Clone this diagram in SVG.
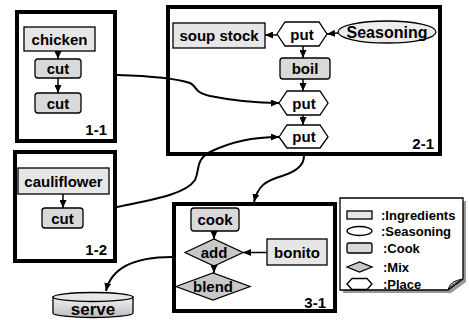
<svg xmlns="http://www.w3.org/2000/svg" width="469" height="320" viewBox="0 0 469 320">
<defs>
<marker id="ah" markerUnits="userSpaceOnUse" markerWidth="8" markerHeight="7" refX="8" refY="3.5" orient="auto">
<path d="M0,0 L8,3.5 L0,7 z" fill="#000"/>
</marker>
<linearGradient id="cyl" x1="0" y1="0" x2="0" y2="1">
<stop offset="0" stop-color="#f2f2f2"/>
<stop offset="1" stop-color="#bdbdbd"/>
</linearGradient>
<style>
text{font-family:"Liberation Sans",Arial,sans-serif;font-weight:bold;fill:#000}
.t{font-size:15px;text-anchor:middle}
.lab{font-size:15px;text-anchor:end}
.leg{font-size:13px}
.grp{fill:#fff;stroke:#000;stroke-width:4}
.ing{fill:#e6e6e6;stroke:#000;stroke-width:1.3}
.cook{fill:#d9d9d9;stroke:#000;stroke-width:1.3}
.mix{fill:#c8c8c8;stroke:#000;stroke-width:1.3}
.place{fill:#fff;stroke:#000;stroke-width:1.3}
.sea{fill:#ececec;stroke:#000;stroke-width:1.3}
.c{fill:none;stroke:#000;stroke-width:2;marker-end:url(#ah)}
.s{fill:none;stroke:#000;stroke-width:1.5;marker-end:url(#ah)}
</style>
</defs>

<g id="group-1-1">
<rect class="grp" x="17" y="12" width="98" height="129"/>
<text class="lab" x="107" y="135">1-1</text>
</g>
<g id="group-1-2">
<rect class="grp" x="15" y="152" width="100" height="109"/>
<text class="lab" x="107" y="255">1-2</text>
</g>
<g id="group-2-1">
<rect class="grp" x="168" y="7" width="272" height="147"/>
<text class="lab" x="434" y="149">2-1</text>
</g>
<g id="group-3-1">
<rect class="grp" x="174" y="204" width="161" height="107"/>
<text class="lab" x="326" y="308">3-1</text>
</g>

<g id="chicken"><rect class="ing" x="24" y="27" width="71" height="24"/><text class="t" x="59.5" y="44.5">chicken</text></g>
<g id="cut1"><rect class="cook" x="35" y="59" width="46" height="19" rx="3"/><text class="t" x="58" y="74">cut</text></g>
<g id="cut2"><rect class="cook" x="35" y="93" width="46" height="20" rx="3"/><text class="t" x="58" y="108.5">cut</text></g>
<g id="cauliflower"><rect class="ing" x="18" y="168" width="91" height="26"/><text class="t" x="63.5" y="186.5">cauliflower</text></g>
<g id="cut3"><rect class="cook" x="42" y="208" width="41" height="20" rx="3"/><text class="t" x="62.5" y="223.5">cut</text></g>

<g id="soupstock"><rect class="ing" x="173" y="23" width="92" height="25"/><text class="t" x="219" y="41">soup stock</text></g>
<g id="put1"><polygon class="place" points="277,34 285,22 319,22 327,34 319,46 285,46"/><text class="t" x="302" y="39.5">put</text></g>
<g id="seasoning"><ellipse class="sea" cx="387" cy="32" rx="49" ry="11"/><text class="t" x="387" y="38" style="font-size:16px">Seasoning</text></g>
<g id="boil"><rect class="cook" x="280" y="58" width="50" height="21" rx="3"/><text class="t" x="305" y="74">boil</text></g>
<g id="put2"><polygon class="place" points="279,103 287,91 320,91 328,103 320,115 287,115"/><text class="t" x="304" y="108.5">put</text></g>
<g id="put3"><polygon class="place" points="279,137 287,125 320,125 328,137 320,148 287,148"/><text class="t" x="304" y="142">put</text></g>

<g id="cook"><rect class="cook" x="191" y="208" width="48" height="23" rx="3"/><text class="t" x="215" y="225">cook</text></g>
<g id="add"><polygon class="mix" points="185,252.5 214,239 243,252.5 214,266"/><text class="t" x="214" y="258">add</text></g>
<g id="blend"><polygon class="mix" points="176,286.5 213,273 250,286.5 213,300"/><text class="t" x="213" y="292">blend</text></g>
<g id="bonito"><rect class="ing" x="267" y="239" width="60" height="26"/><text class="t" x="297" y="257.5">bonito</text></g>

<g id="serve">
<path d="M53,297 L53,313 A40,4.5 0 0 0 133,313 L133,297 z" fill="url(#cyl)" stroke="#000" stroke-width="1.3"/>
<ellipse cx="93" cy="297" rx="40" ry="4.5" fill="#e8e8e8" stroke="#000" stroke-width="1.3"/>
<text class="t" x="93" y="315" style="font-size:17px">serve</text>
</g>

<g id="legend">
<path d="M343,201 L466,201 L466,282 L451,293 L343,293 z" fill="#999"/>
<path d="M340,198 L463,198 L463,279 L448,290 L340,290 z" fill="#fff" stroke="#000" stroke-width="1.3"/>
<path d="M448,290 C450,284 452,281 463,279 C456,283 452,284 448,290 z" fill="#ddd" stroke="#000" stroke-width="1"/>
<rect class="ing" x="347" y="211" width="25" height="8"/>
<text class="leg" x="381" y="220">:Ingredients</text>
<ellipse class="place" cx="359.5" cy="231" rx="12.5" ry="4.5"/>
<text class="leg" x="381" y="236">:Seasoning</text>
<rect class="cook" x="347" y="243" width="25" height="10" rx="2"/>
<text class="leg" x="383" y="253">:Cook</text>
<polygon class="mix" points="347,267 359.5,262 372,267 359.5,272"/>
<text class="leg" x="383" y="272">:Mix</text>
<polygon class="place" points="347,284 352,278.5 367,278.5 372,284 367,289.5 352,289.5"/>
<text class="leg" x="383" y="289">:Place</text>
</g>

<g id="connectors">
<path class="s" d="M58,51 L58,59"/>
<path class="s" d="M58,78 L58,93"/>
<path class="s" d="M63,194 L63,208"/>
<path class="s" d="M303,46 L303,58"/>
<path class="s" d="M303,79 L303,91"/>
<path class="s" d="M303,115 L303,125"/>
<path class="s" d="M277,35 L265,35"/>
<path class="s" d="M338,33 L327,34"/>
<path class="s" d="M214,231 L214,239"/>
<path class="s" d="M214,266 L214,273"/>
<path class="s" d="M267,252.5 L243,252.5"/>
<path class="c" d="M117,75 C150,76 175,78 190,83 C198,87 193,92 210,96 C230,100 255,103 279,103"/>
<path class="c" d="M117,207 C150,200 185,195 195,180 C200,170 195,160 210,152 C230,142 255,137 279,137"/>
<path class="c" d="M304,156 C304,166 295,172 282,176 C265,181 258,186 254,202"/>
<path class="c" d="M172,257 C140,257 112,265 106,291"/>
</g>
</svg>
